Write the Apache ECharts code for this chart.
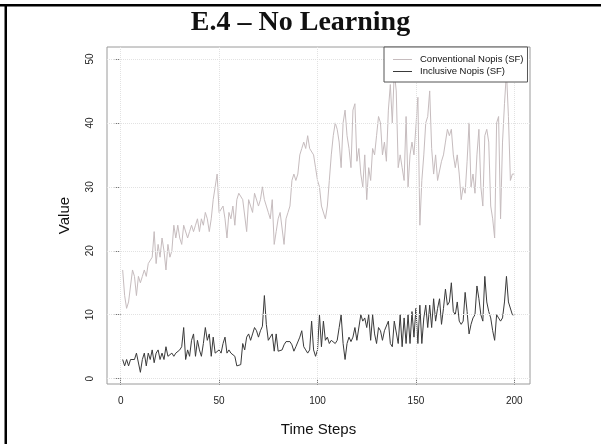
<!DOCTYPE html>
<html>
<head>
<meta charset="utf-8">
<script src="https://cdn.jsdelivr.net/npm/echarts@6/dist/echarts.min.js"></script>
<style>
html,body{margin:0;padding:0;background:#fff;}
#chart{width:601px;height:444px;}
</style>
</head>
<body>
<div id="chart"></div>
<script>
var titleText = 'E.4 \u2013 No Learning';
var seriesNames = ['Conventional Nopis (SF)', 'Inclusive Nopis (SF)'];
var xTicks = [0, 50, 100, 150, 200];
var yTicks = [0, 10, 20, 30, 40, 50];

var conventional = [
17,13,11,12,12,17,16,13,16,15,16,17,16,18,18,19,23,18,21,19,
22,20,17,21,19,20,24,22,24,22,21,24,24,22,23,24,23,24,25,23,
25,24,26,25,23,25,28,28,32,26,26,27,25,22,26,25,27,24,28,29,
29,28,28,23,28,27,26,29,29,27,28,30,28,27,26,25,28,21,23,25,
26,26,21,25,26,27,31,32,31,32,35,36,37,36,38,36,36,35,33,31,
30,27,27,25,27,31,35,38,40,39,37,33,40,42,38,36,33,42,43,34,
36,32,30,35,28,33,31,36,35,38,41,40,35,37,34,42,46,40,48,45,
33,35,33,31,41,30,35,37,35,35,44,24,31,35,40,41,45,36,32,35,
31,31,34,35,37,39,38,39,35,33,35,32,28,30,29,34,40,30,32,29,
35,39,30,27,38,39,37,27,25,22,40,41,25,37,43,48,41,31,32,32
];
var inclusive = [
3,2,3,2,3,3,3,4,4,1,3,4,2,4,3,4.5,2.5,4,4.5,3,
4,3,5,3.5,3.5,4,3.5,4,4,4.5,5,8,3,4.5,3.5,6,7,3.5,6,4.5,
3.5,5.5,8,6,7,3.5,6.5,4,4,4.5,4,5.5,6.5,4,4.5,4,4,3.5,2,2,
2.2,5.5,4.5,6.5,7,6,7,8,7.5,6.5,7.5,8.2,13,8.5,6,6,7,4.3,7,4.3,
4.5,4.5,5.3,5.8,5.5,5.8,5.3,4.3,5,5.3,6.5,7.5,5,4.5,4,4.5,9,4.5,3.5,4.5,
10,5,9,6,6.5,5.5,6,5.7,5.5,6,8,10,5.5,3,5.5,6.5,5.8,6.5,8,6,
6,10,9,9.5,8,10,6,10,7,5.5,8,7.5,6,7.5,7.5,9,5.5,5,9,9,
5.5,10,5,9.5,5.5,10,5.5,10.5,6.5,11,5.5,11.5,5.5,9.5,11.5,8,11.5,8,12.5,9,
11,12.5,8.5,11,14,11.5,12,15,10.5,10,12,9,8.5,9,13.5,10.5,7,8.5,9.5,10,
14.5,12.5,10,9,16,12,10.5,9.5,7.5,6,10,9.5,9,9.5,12,16,12,12,10,10
];

function pairs(arr){ var out=[]; for(var i=0;i<arr.length;i++){ out.push([i+1, arr[i]]); } return out; }

var gridLines = [];
xTicks.forEach(function(v){ gridLines.push({xAxis:v}); });
yTicks.forEach(function(v){ gridLines.push({yAxis:v}); });

var chart = echarts.init(document.getElementById('chart'), null, {renderer:'canvas'});
chart.setOption({
  animation:false,
  backgroundColor:'#fff',
  title:{
    text:titleText, left:'center', top:9, padding:0,
    textStyle:{fontFamily:'Liberation Serif', fontWeight:'bold', fontSize:28, color:'#111'}
  },
  graphic:[
    {type:'rect', shape:{x:0,y:4,width:601,height:2.5}, style:{fill:'#000'}, silent:true},
    {type:'rect', shape:{x:4.5,y:4,width:2.5,height:440}, style:{fill:'#000'}, silent:true}
  ],
  legend:{
    data:seriesNames, orient:'vertical', left:384, top:47, z:100, zlevel:1,
    backgroundColor:'#fff', borderColor:'#555', borderWidth:1, borderRadius:0,
    padding:[7,4,5,9], itemGap:1, itemWidth:19, itemHeight:1, icon:'rect',
    textStyle:{fontFamily:'Liberation Sans', fontSize:9.5, color:'#111', lineHeight:11, padding:[0,0,0,3]}
  },
  grid:{left:107, right:71, top:47, bottom:60, show:true, borderColor:'#9a9a9a', borderWidth:1, backgroundColor:'transparent'},
  xAxis:{
    type:'value', min:-6.96, max:207.96,
    name:'Time Steps', nameLocation:'middle', nameGap:38,
    nameTextStyle:{fontFamily:'Liberation Sans', fontSize:15, color:'#111'},
    axisLine:{show:false},
    axisTick:{show:true, customValues:xTicks, length:6, lineStyle:{color:'#777'}},
    axisLabel:{customValues:xTicks, fontFamily:'Liberation Sans', fontSize:10, color:'#222', margin:12},
    splitLine:{show:false}
  },
  yAxis:{
    type:'value', min:-0.83, max:51.87,
    name:'Value', nameLocation:'middle', nameGap:35, nameRotate:90,
    nameTextStyle:{fontFamily:'Liberation Sans', fontSize:15, color:'#111'},
    axisLine:{show:false},
    axisTick:{show:true, customValues:yTicks, length:6, lineStyle:{color:'#777'}},
    axisLabel:{customValues:yTicks, rotate:90, fontFamily:'Liberation Sans', fontSize:10, color:'#222', margin:12},
    splitLine:{show:false}
  },
  series:[
    {
      name:seriesNames[0], type:'line', data:pairs(conventional), showSymbol:false,
      lineStyle:{width:1, color:'#c6bcbe'}, itemStyle:{color:'#c6bcbe'},
      markLine:{silent:true, symbol:'none', label:{show:false}, animation:false,
        lineStyle:{type:'dotted', color:'#e2e2e2', width:1}, data:gridLines}
    },
    {
      name:seriesNames[1], type:'line', data:pairs(inclusive), showSymbol:false,
      lineStyle:{width:1, color:'#3a3a3a'}, itemStyle:{color:'#3a3a3a'}
    }
  ]
});
</script>
</body>
</html>
